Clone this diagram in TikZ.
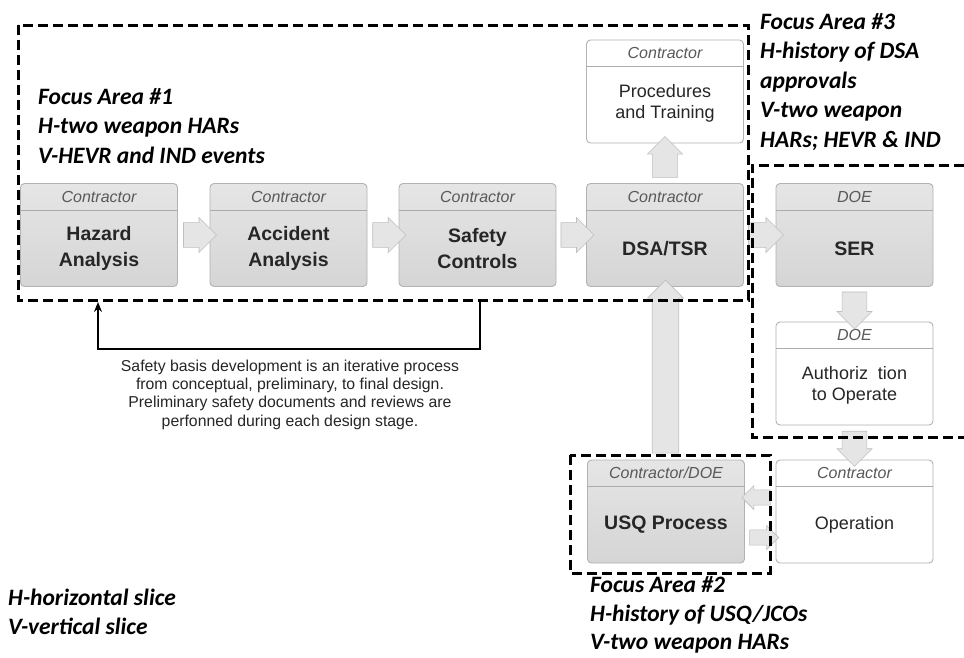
\documentclass[tikz,border=0pt]{standalone}
\usepackage{fontspec}
\setmainfont{Liberation Sans}
\newfontfamily\focusfont{Carlito}
\usetikzlibrary{calc,shapes.arrows,arrows.meta}
\tikzset{
  boxbase/.style={rounded corners=4pt, minimum width=157pt, minimum height=103pt, inner sep=0pt, line width=0.9pt},
  gbox/.style={boxbase, draw=gray!60, top color=gray!20, bottom color=gray!33},
  wbox/.style={boxbase, draw=gray!60, fill=white},
  hline/.style={draw=gray!65, line width=1.1pt},
  hdr/.style={font=\fontsize{16}{18}\selectfont\itshape, text=gray!70!black, inner sep=0pt},
  bodyb/.style={font=\fontsize{19.5}{26}\selectfont\bfseries, text=black!85, align=center, inner sep=0pt},
  bodyr/.style={font=\fontsize{18}{20.5}\selectfont, text=black!85, align=center, inner sep=0pt},
  barrow/.style={single arrow, draw=gray!50, fill=gray!20, inner sep=7pt, minimum width=35pt, single arrow head extend=3pt, line width=0.6pt},
  sarrow/.style={single arrow, draw=gray!50, fill=gray!20, inner sep=5pt, minimum width=24pt, single arrow head extend=3pt, line width=0.6pt},
  focus/.style={draw=black, line width=3pt, dash pattern=on 10pt off 5pt},
  ftext/.style={font=\fontsize{23.5}{29.5}\selectfont\focusfont\bfseries\itshape, align=left, inner sep=0pt, anchor=west},
  fb/.style={draw=black, line width=1.3pt},
}
\newcommand\mkbox[6]{%
  \node[#4] (#1) at (#2,#3) {};
  \draw[hline] ($(#1.north west)+(0,27)$) -- ($(#1.north east)+(0,27)$);
  \node[hdr] (#1-h) at ($(#1.north)+(0,13.5)$) {#5};
}
\begin{document}
\begin{tikzpicture}[x=1pt,y=-1pt]
\useasboundingbox (0,0) rectangle (964,657);
\fill[white] (0,0) rectangle (964,657);
% boxes
\mkbox{haz}{99}{235}{gbox}{Contractor}{}
\node[bodyb] (haz-b) at ($(haz.center)+(0,13.5)$) {Hazard\\Analysis};
\mkbox{acc}{288.5}{235}{gbox}{Contractor}{}
\node[bodyb] (acc-b) at ($(acc.center)+(0,13.5)$) {Accident\\Analysis};
\mkbox{saf}{477.5}{235}{gbox}{Contractor}{}
\node[bodyb] (saf-b) at ($(saf.center)+(0,13.5)$) {Safety\\Controls};
\mkbox{dsa}{665}{235}{gbox}{Contractor}{}
\node[bodyb] (dsa-b) at ($(dsa.center)+(0,13.5)$) {DSA/TSR};
\mkbox{proc}{665}{91.5}{wbox}{Contractor}{}
\node[bodyr] (proc-b) at ($(proc.center)+(0,12)$) {Procedures\\and Training};
\mkbox{ser}{854.5}{235}{gbox}{DOE}{}
\node[bodyb] (ser-b) at ($(ser.center)+(0,13.5)$) {SER};
\mkbox{auth}{854.5}{373.5}{wbox}{DOE}{}
\node[bodyr] (auth-b) at ($(auth.center)+(0,12)$) {Authoriz~ tion\\to Operate};
\mkbox{op}{854.5}{511.5}{wbox}{Contractor}{}
\node[bodyr] (op-b) at ($(op.center)+(0,13.5)$) {Operation};
\mkbox{usq}{666}{511.5}{gbox}{Contractor/DOE}{}
\node[bodyb] (usq-b) at ($(usq.center)+(0,13.5)$) {USQ Process};
% block arrows
\path (haz.east) -- (acc.west) node[midway, barrow, minimum height=33pt] (a1) {};
\path (acc.east) -- (saf.west) node[midway, barrow, minimum height=33pt] (a2) {};
\path (saf.east) -- (dsa.west) node[midway, barrow, minimum height=33pt] (a3) {};
\path (dsa.east) -- (ser.west) node[midway, barrow, minimum height=35pt] (a4) {};
\path (dsa.north) -- (proc.south) node[midway, barrow, shape border rotate=90, minimum height=41pt] (a5) {};
\path (ser.south) -- (auth.north) node[midway, barrow, shape border rotate=270, minimum height=37pt] (a6) {};
\path (auth.south) -- (op.north) node[midway, barrow, shape border rotate=270, minimum height=35pt] (a7) {};
\path (usq.north) -- (dsa.south) node[midway, barrow, inner sep=8pt, minimum width=36pt, shape border rotate=90, minimum height=173pt] (a8) {};
\coordinate (uo1) at ($(usq.east)+(0,-14)$);
\coordinate (uo2) at ($(op.west)+(0,-14)$);
\coordinate (uo3) at ($(usq.east)+(0,26)$);
\coordinate (uo4) at ($(op.west)+(0,26)$);
\path (uo2) -- (uo1) node[midway, sarrow, shape border rotate=180, minimum height=29pt] (a9) {};
\path (uo3) -- (uo4) node[midway, sarrow, minimum height=29pt] (a10) {};
% focus areas
\draw[focus] (18,25) rectangle (748,300);
\draw[focus] (964,165) -- (752,165) -- (752,437) -- (964,437);
\draw[focus] (570,455) rectangle (770,573);
% feedback loop
\coordinate (fbA) at (98,302);
\coordinate (fbB) at (480,301);
\draw[fb, -{Stealth[length=10pt,width=8pt]}] (fbB) -- ++(0,48) -| (fbA);
\node[font=\fontsize{15.8}{18.3}\selectfont, text=black!85, align=center, inner sep=0pt] (cap) at (290,394.5)
  {Safety basis development is an iterative process\\from conceptual, preliminary, to final design.\\Preliminary safety documents and reviews are\\perfonned during each design stage.};
% texts
\node[ftext] (f1) at (38,126) {Focus Area \#1\\H-two weapon HARs\\V-HEVR and IND events};
\node[ftext] (f3) at (760,82) {Focus Area \#3\\H-history of DSA\\approvals\\V-two weapon\\HARs; HEVR \& IND};
\node[ftext, font=\fontsize{23.5}{28.5}\selectfont\focusfont\bfseries\itshape] (f2) at (590,615) {Focus Area \#2\\H-history of USQ/JCOs\\V-two weapon HARs};
\node[ftext] (hv) at (8,612) {H-horizontal slice\\V-vertical slice};
\end{tikzpicture}
\end{document}
